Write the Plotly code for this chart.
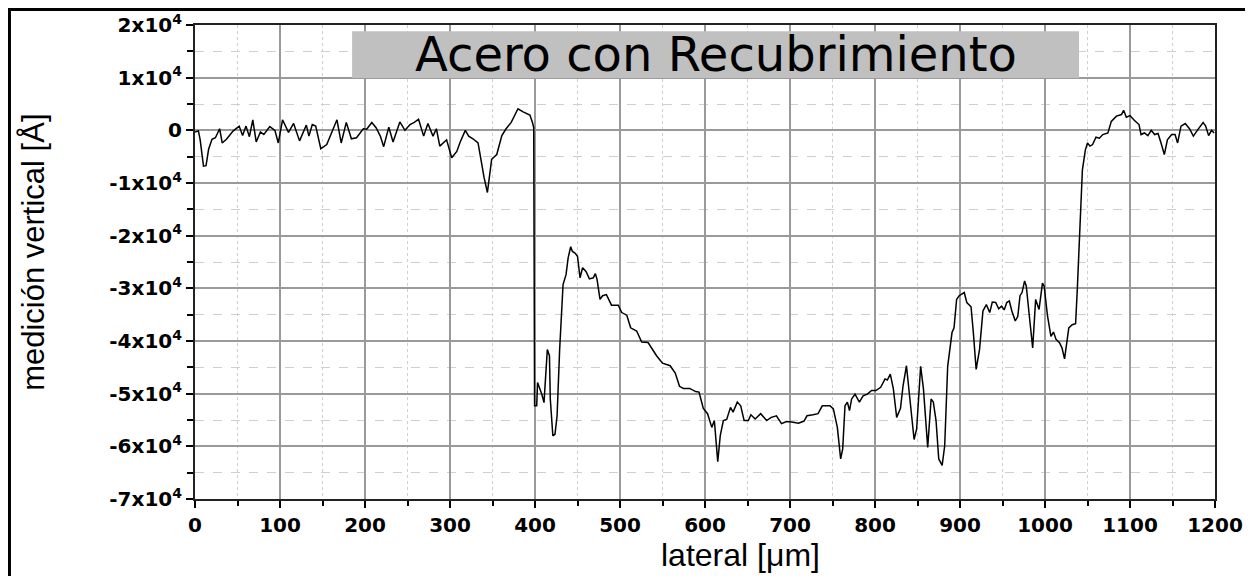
import plotly.graph_objects as go

# profile: lateral position [um] and height [A]
lateral = [
    0, 4, 6, 10, 13, 16, 20, 24, 29, 32, 37, 45, 52, 56, 60, 64, 68, 72, 77, 81,
    88, 94, 98, 103, 110, 116, 123, 126, 131, 134, 138, 142, 148, 155, 161, 167, 172, 178, 184, 190,
    198, 202, 208, 213, 218, 222, 228, 233, 241, 247, 253, 258, 263, 269, 274, 280, 284, 288, 296, 302,
    308, 312, 318, 322, 327, 333, 340, 344, 349, 355, 361, 366, 372, 380, 386, 394, 397, 398.5,
    399.5, 402, 403, 405, 408, 410.6, 412.5, 414.5, 417, 418, 421, 423.5, 426, 429, 433, 436.5, 439, 442,
    444, 447, 450, 453, 456, 460, 464, 468.6, 471, 473, 476.5, 479.6, 484, 490, 498, 502, 508, 512.5,
    519.6, 525.5, 533, 543, 550, 559, 565, 570, 574.5, 582, 589, 593, 598, 603, 608, 611, 615, 618,
    621.6, 625.5, 630, 633, 638, 642, 646, 651, 654, 659, 665.5, 672.5, 678, 684, 690, 696, 702, 710,
    716.5, 720, 727, 733, 738, 747, 751, 755.7, 759.6, 762, 764.7, 767.5, 770, 772.5, 776.5, 781.6, 786, 791,
    796, 801, 806.7, 811.8, 814.5, 818, 821.6, 825.5, 830, 833, 837, 841, 846, 849, 853.7, 857, 862, 866,
    868.6, 871.8, 875, 879, 882, 885.5, 890.6, 893, 896, 899, 903, 905, 908, 913, 915.7, 919, 923, 927,
    931, 935, 938, 942, 945.5, 949, 952, 955, 958, 961, 965, 968, 970.6, 973, 976, 978, 981.6, 985.5,
    989, 993, 997, 999, 1003, 1007, 1010, 1013, 1017, 1020, 1023, 1025, 1028, 1032, 1036, 1038, 1041, 1044,
    1047.5, 1050, 1053, 1056, 1060, 1064, 1068, 1074, 1078, 1084, 1090, 1092.5, 1095.7, 1100, 1105, 1110.6, 1113, 1117,
    1121, 1125, 1129, 1133, 1136.5, 1140.4, 1144, 1149, 1153, 1156, 1160, 1165, 1170, 1174.5, 1179.6, 1186, 1189, 1192.5,
    1196, 1199,
]
vertical = [
    -300, -100, -1700, -6800, -6700, -3600, -1700, -1400, 300, -2400, -1700, -100, 800, -1000, 800, -1200, 2000, -2200, -300, -800,
    700, 0, -2400, 2000, -400, 1300, -2000, -800, 1000, -1100, 1100, 800, -3500, -2700, -400, 2000, -2400, 1500, -1600, -1400,
    300, 200, 1500, 500, -1100, -3100, 600, -2200, 1600, 0, 1100, 1500, 2100, -1100, 1300, -1100, 300, -3000, -1800, -5200,
    -4000, -2200, 0, -1100, -1600, -2400, -8900, -11800, -5500, -4600, -1000, 300, 1500, 4100, 3500, 2900, 1500, 500,
    -52300, -52300, -47900, -48800, -50100, -51700, -46000, -41600, -42800, -51000, -58000, -57700, -54200, -41600, -29300, -27400, -24200, -22100,
    -23000, -23300, -23900, -28000, -26100, -26800, -28200, -28000, -27200, -28300, -32100, -31400, -31200, -33200, -33200, -34600, -35100, -37500,
    -38100, -40200, -40300, -42800, -44200, -44700, -46100, -48600, -49000, -49000, -49600, -49700, -52800, -53800, -56400, -55100, -62900, -57900,
    -55100, -54900, -52600, -53500, -51600, -52300, -55100, -55100, -54000, -54800, -53800, -55100, -54500, -54200, -55700, -55300, -55400, -55600,
    -55200, -54200, -54000, -53800, -52300, -52300, -52900, -56400, -62400, -60500, -52300, -51600, -53200, -51000, -50100, -51600, -50400, -50100,
    -49400, -49400, -48800, -47200, -47400, -46300, -49100, -54500, -52800, -48500, -44700, -51600, -58700, -56700, -44800, -49100, -60200, -51000,
    -51600, -55100, -62400, -63600, -59900, -44800, -38400, -37500, -32100, -31400, -31000, -30800, -32700, -33500, -38400, -45400, -41600, -34300,
    -33100, -34600, -32600, -32700, -33900, -33400, -34100, -32700, -32400, -34300, -36200, -35300, -31400, -30800, -28600, -29600, -35300, -41300,
    -32100, -34000, -29000, -29600, -35300, -39100, -38300, -39700, -40300, -41300, -43400, -41000, -37500, -36900, -36700, -30200, -19500, -7500,
    -3700, -2400, -3000, -2700, -1300, -1500, -800, -500, 1700, 2700, 3000, 3800, 2500, 2800, 1900, 1100, -800, -500,
    -1000, 0, -800, -600, -2400, -4600, -1800, -800, -800, -2400, 800, 1300, 300, -1100, 100, 1500, 800, -1000,
    0, -500,
]

y_ticks = [20000, 10000, 0, -10000, -20000, -30000, -40000, -50000, -60000, -70000]
y_labels = ["2x10<sup>4</sup>", "1x10<sup>4</sup>", "0", "-1x10<sup>4</sup>", "-2x10<sup>4</sup>",
            "-3x10<sup>4</sup>", "-4x10<sup>4</sup>", "-5x10<sup>4</sup>", "-6x10<sup>4</sup>", "-7x10<sup>4</sup>"]

tick_font = dict(family="DejaVu Sans", size=20, color="black", weight="bold")

fig = go.Figure()
fig.add_trace(go.Scatter(x=lateral, y=vertical, mode="lines",
                         line=dict(color="black", width=1.5), showlegend=False))

fig.update_xaxes(
    range=[0, 1200], tickvals=list(range(0, 1201, 100)), tickfont=tick_font, automargin=False,
    showgrid=True, gridcolor="#9a9a9a", gridwidth=1.5,
    showline=True, linecolor="#222", linewidth=2, mirror=True,
    ticks="outside", ticklen=7, tickwidth=2, tickcolor="black", zeroline=False,
    minor=dict(dtick=50, showgrid=True, gridcolor="#cfcfcf", griddash="dot", gridwidth=1,
               ticks="outside", ticklen=5, tickwidth=1.5, tickcolor="black"),
)
fig.update_yaxes(
    range=[-70000, 20000], tickvals=y_ticks, ticktext=y_labels, tickfont=tick_font, automargin=False,
    showgrid=True, gridcolor="#9a9a9a", gridwidth=1.5,
    showline=True, linecolor="#222", linewidth=2, mirror=True,
    ticks="outside", ticklen=7, tickwidth=2, tickcolor="black", zeroline=False,
    minor=dict(dtick=5000, showgrid=True, gridcolor="#cfcfcf", griddash="dash", gridwidth=1,
               ticks="outside", ticklen=6, tickwidth=1.5, tickcolor="black"),
)

# grey title box inside the plot
fig.add_shape(type="rect", xref="paper", yref="paper", x0=0.154, x1=0.8667, y0=0.888, y1=0.987,
              fillcolor="#c0c0c0", line=dict(width=0), layer="above")
fig.add_annotation(text="Acero con Recubrimiento", xref="paper", yref="paper", x=0.5103, y=0.938,
                   xanchor="center", yanchor="middle", showarrow=False,
                   font=dict(family="DejaVu Sans", size=48, color="black"))

# axis titles
fig.add_annotation(text="lateral [μm]", xref="paper", yref="paper", x=0.535, y=-0.118,
                   xanchor="center", yanchor="middle", showarrow=False,
                   font=dict(family="Liberation Sans, Arial", size=32, color="black"))
fig.add_annotation(text="medición vertical [Å]", xref="paper", yref="paper", x=-0.159, y=0.521,
                   xanchor="center", yanchor="middle", textangle=-90, showarrow=False,
                   font=dict(family="Liberation Sans, Arial", size=31, color="black"))

# outer frame of the figure (top-left corner at the very edge of the svg)
fig.add_shape(type="rect", xref="paper", yref="paper", x0=-0.1819, x1=1.2, y0=-0.4, y1=1.0327,
              line=dict(color="black", width=3), fillcolor="rgba(0,0,0,0)", layer="above")

# page has an 8px body margin, so the figure is shifted and shrunk to fit the window
fig.update_layout(
    width=1237, height=568,
    margin=dict(l=187, r=30, t=17, b=77),
    plot_bgcolor="white", paper_bgcolor="white",
)

fig.write_html("out.html")
